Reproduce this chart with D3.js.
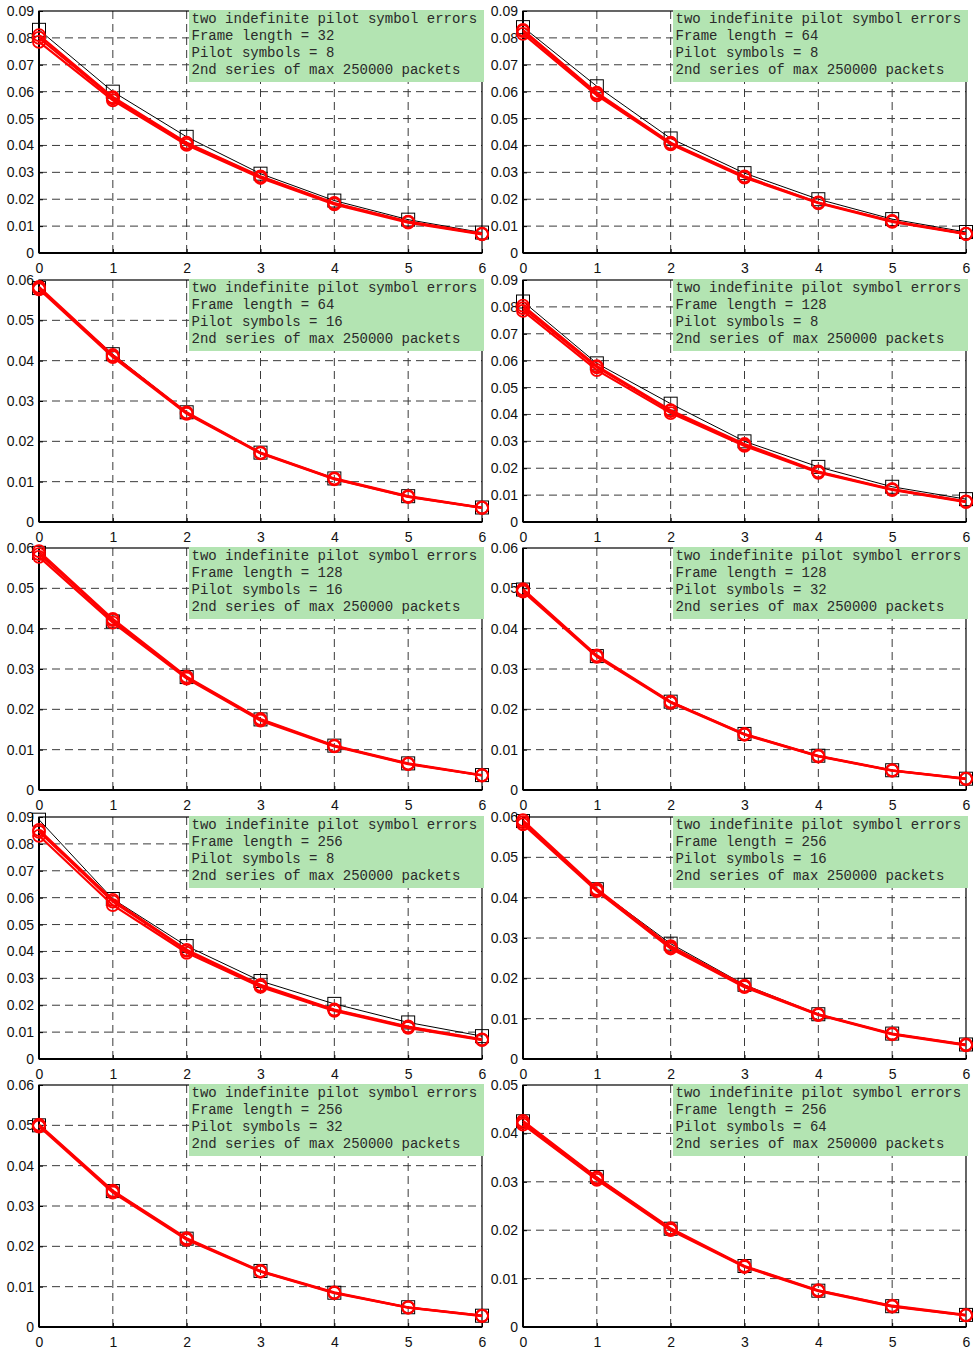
<!DOCTYPE html>
<html><head><meta charset="utf-8">
<script src="https://cdn.jsdelivr.net/npm/d3@7/dist/d3.min.js"></script>
<style>body{margin:0;background:#fff}svg{display:block}</style>
</head><body>
<script>
// ---- data ----
const xValues = [0, 1, 2, 3, 4, 5, 6];
const frameLengths = [32, 64, 64, 128, 128, 128, 256, 256, 256, 256];
const pilotSymbols = [8, 8, 16, 8, 16, 32, 8, 16, 32, 64];
const yMaxes = [0.09, 0.09, 0.06, 0.09, 0.06, 0.06, 0.09, 0.06, 0.06, 0.05];
const legendLine1 = "two indefinite pilot symbol errors";
const legendLine4 = "2nd series of max 250000 packets";

// black reference curve (squares) per panel
const blackSeries = [
  [0.083, 0.0600, 0.0432, 0.0295, 0.0195, 0.0124, 0.0076],
  [0.084, 0.0620, 0.0426, 0.0297, 0.0200, 0.0126, 0.0078],
  [0.058, 0.0416, 0.0272, 0.0172, 0.0108, 0.0064, 0.0036],
  [0.082, 0.0590, 0.0440, 0.0300, 0.0205, 0.0131, 0.0085],
  [0.0588, 0.0418, 0.0280, 0.0175, 0.0110, 0.0066, 0.0037],
  [0.0497, 0.0332, 0.0219, 0.0139, 0.0085, 0.0049, 0.0028],
  [0.089, 0.0595, 0.0420, 0.0290, 0.0205, 0.0136, 0.0085],
  [0.0590, 0.0421, 0.0286, 0.0184, 0.0111, 0.0063, 0.0036],
  [0.0500, 0.0337, 0.0219, 0.0139, 0.0085, 0.0049, 0.0028],
  [0.0425, 0.0310, 0.0203, 0.0126, 0.0075, 0.0043, 0.0025]
];
// red simulated curves (circles), several per panel
const redSeriesA = [
  [0.0800, 0.0575, 0.0408, 0.0283, 0.0184, 0.0116, 0.0071],
  [0.0825, 0.0592, 0.0408, 0.0283, 0.0187, 0.0118, 0.0071],
  [0.0580, 0.0412, 0.0270, 0.0171, 0.0107, 0.0063, 0.0035],
  [0.0795, 0.0575, 0.0412, 0.0287, 0.0186, 0.0121, 0.0076],
  [0.0585, 0.0421, 0.0279, 0.0174, 0.0109, 0.0065, 0.0036],
  [0.0495, 0.0332, 0.0218, 0.0138, 0.0084, 0.0048, 0.0028],
  [0.0845, 0.0585, 0.0402, 0.0273, 0.0182, 0.0119, 0.0072],
  [0.0587, 0.0419, 0.0277, 0.0180, 0.0110, 0.0062, 0.0035],
  [0.0500, 0.0336, 0.0218, 0.0138, 0.0085, 0.0048, 0.0028],
  [0.0422, 0.0307, 0.0202, 0.0125, 0.0075, 0.0043, 0.0024]
];
const redSeriesB = [
  [0.0785, 0.0568, 0.0402, 0.0279, 0.0181, 0.0113, 0.0069],
  [0.0815, 0.0586, 0.0404, 0.0280, 0.0185, 0.0116, 0.0070],
  [0.0577, 0.0409, 0.0268, 0.0170, 0.0106, 0.0062, 0.0035],
  [0.0785, 0.0565, 0.0405, 0.0283, 0.0183, 0.0119, 0.0074],
  [0.0578, 0.0415, 0.0276, 0.0172, 0.0108, 0.0064, 0.0036],
  [0.0492, 0.0330, 0.0216, 0.0137, 0.0083, 0.0048, 0.0027],
  [0.0830, 0.0572, 0.0395, 0.0268, 0.0179, 0.0116, 0.0070],
  [0.0582, 0.0416, 0.0274, 0.0178, 0.0109, 0.0061, 0.0034],
  [0.0497, 0.0333, 0.0216, 0.0137, 0.0084, 0.0048, 0.0027],
  [0.0418, 0.0304, 0.0200, 0.0124, 0.0074, 0.0042, 0.0024]
];
const redSeriesC = [
  [0.0810, 0.0580, 0.0410, 0.0285, 0.0186, 0.0117, 0.0072],
  [0.0830, 0.0596, 0.0410, 0.0285, 0.0188, 0.0119, 0.0072],
  [0.0583, 0.0414, 0.0272, 0.0172, 0.0108, 0.0064, 0.0036],
  [0.0805, 0.0580, 0.0416, 0.0290, 0.0188, 0.0122, 0.0077],
  [0.0592, 0.0424, 0.0281, 0.0176, 0.0110, 0.0066, 0.0037],
  [0.0498, 0.0334, 0.0219, 0.0139, 0.0085, 0.0049, 0.0028],
  [0.0852, 0.0592, 0.0406, 0.0276, 0.0184, 0.0121, 0.0073],
  [0.0592, 0.0422, 0.0280, 0.0182, 0.0111, 0.0063, 0.0036],
  [0.0502, 0.0338, 0.0220, 0.0139, 0.0086, 0.0049, 0.0028],
  [0.0426, 0.0309, 0.0204, 0.0126, 0.0076, 0.0044, 0.0025]
];

// ---- layout ----
const W = 973, H = 1352;
const colX = [39, 523];
const plotW = 443;
const rowTop = [11, 280, 548, 817, 1085];
const plotH = 242;

const svg = d3.select("body").append("svg").attr("width", W).attr("height", H);

frameLengths.forEach((fl, i) => {
  const col = i % 2, row = Math.floor(i / 2);
  const x0 = colX[col], y0 = rowTop[row];
  const g = svg.append("g").attr("transform", `translate(${x0},${y0})`);
  const x = d3.scaleLinear().domain([0, 6]).range([0, plotW]);
  const y = d3.scaleLinear().domain([0, yMaxes[i]]).range([plotH, 0]);
  const yTicks = d3.range(0, Math.round(yMaxes[i] * 100) + 1).map(k => k / 100);

  // grid
  g.append("g").selectAll("line").data(yTicks.slice(1, -1)).join("line")
    .attr("x1", 0).attr("x2", plotW).attr("y1", d => y(d)).attr("y2", d => y(d))
    .attr("stroke", "#3a3a3a").attr("stroke-width", 1).attr("stroke-dasharray", "8,5");
  g.append("g").selectAll("line").data(xValues.slice(1, -1)).join("line")
    .attr("y1", 0).attr("y2", plotH).attr("x1", d => x(d)).attr("x2", d => x(d))
    .attr("stroke", "#3a3a3a").attr("stroke-width", 1).attr("stroke-dasharray", "8,5");

  // axes
  const yAxis = d3.axisLeft(y).tickValues(yTicks).tickSize(-4).tickPadding(5)
    .tickFormat(d => d === 0 ? "0" : d3.format(".2f")(d));
  const xAxis = d3.axisBottom(x).tickValues(xValues).tickSize(-4).tickPadding(8)
    .tickFormat(d3.format("d"));
  const ya = g.append("g").call(yAxis);
  const xa = g.append("g").attr("transform", `translate(0,${plotH})`).call(xAxis);
  [ya, xa].forEach(a => {
    a.select(".domain").remove();
    a.selectAll("line").attr("stroke", "#000");
    a.selectAll("text").attr("font-family", "Liberation Sans Narrow, Arial Narrow, Liberation Sans, sans-serif")
      .attr("font-size", 14).attr("fill", "#111");
  });
  xa.selectAll("text").attr("dy", "0.85em");

  // frame
  g.append("rect").attr("x", 0).attr("y", 0).attr("width", plotW).attr("height", plotH)
    .attr("fill", "none").attr("stroke", "#000").attr("stroke-width", 1.2);
  g.append("line").attr("x1", 0).attr("x2", 0).attr("y1", 0).attr("y2", plotH)
    .attr("stroke", "#000").attr("stroke-width", 2);
  g.append("line").attr("x1", 0).attr("x2", plotW).attr("y1", plotH).attr("y2", plotH)
    .attr("stroke", "#000").attr("stroke-width", 2);

  const line = d3.line().x((d, k) => x(xValues[k])).y(d => y(d));

  // black series
  g.append("path").datum(blackSeries[i]).attr("d", line)
    .attr("fill", "none").attr("stroke", "#000").attr("stroke-width", 1);
  g.append("g").selectAll("rect").data(blackSeries[i]).join("rect")
    .attr("x", (d, k) => x(xValues[k]) - 6.5).attr("y", d => y(d) - 6.5)
    .attr("width", 13).attr("height", 13)
    .attr("fill", "none").attr("stroke", "#000").attr("stroke-width", 1);

  // red series
  [redSeriesA[i], redSeriesB[i], redSeriesC[i]].forEach(s => {
    g.append("path").datum(s).attr("d", line)
      .attr("fill", "none").attr("stroke", "#ff0000").attr("stroke-width", 2.2);
    g.append("g").selectAll("circle").data(s).join("circle")
      .attr("cx", (d, k) => x(xValues[k])).attr("cy", d => y(d)).attr("r", 6)
      .attr("fill", "none").attr("stroke", "#ff0000").attr("stroke-width", 1.8);
  });

  // legend box
  const lg = g.append("g").attr("transform", `translate(${150},${-1})`);
  lg.append("rect").attr("x", 0).attr("y", 0).attr("width", 295).attr("height", 72)
    .attr("fill", "#b3e4b2");
  const lines = [legendLine1, `Frame length = ${fl}`, `Pilot symbols = ${pilotSymbols[i]}`, legendLine4];
  lg.selectAll("text").data(lines).join("text")
    .attr("x", 2.5).attr("y", (d, k) => 13 + k * 17)
    .attr("font-family", "Liberation Mono, Courier New, monospace")
    .attr("font-size", 14).attr("fill", "#2a2a2a")
    .attr("xml:space", "preserve").style("white-space", "pre")
    .text(d => d);
});
</script>
</body></html>
